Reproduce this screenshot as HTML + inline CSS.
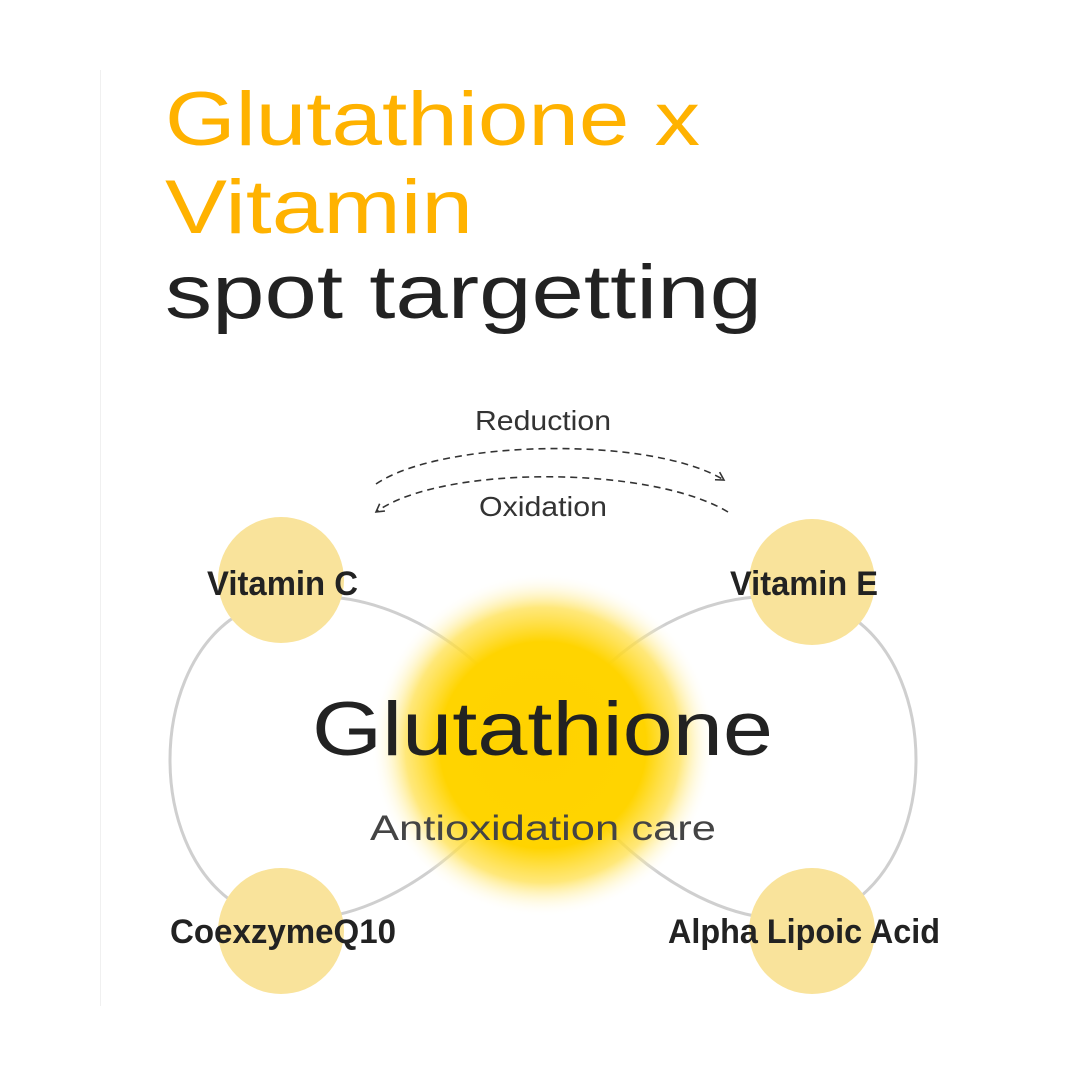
<!DOCTYPE html>
<html><head><meta charset="utf-8"><style>
html,body{margin:0;padding:0;background:#fff}
svg{display:block}
</style></head><body>
<svg width="1080" height="1080" viewBox="0 0 1080 1080" xmlns="http://www.w3.org/2000/svg">
<defs>
<radialGradient id="g" cx="50%" cy="50%" r="50%">
<stop offset="0" stop-color="#ffd200"/>
<stop offset="0.6" stop-color="#ffd400"/>
<stop offset="0.8" stop-color="#ffe04d" stop-opacity="0.75"/>
<stop offset="1" stop-color="#fff" stop-opacity="0"/>
</radialGradient>
<marker id="ah" viewBox="0 0 10 10" refX="8" refY="5" markerWidth="7" markerHeight="7" orient="auto">
<path d="M1 1 L8 5 L1 9" fill="none" stroke="#333" stroke-width="1.4"/>
</marker>
</defs>
<line x1="100.5" y1="70" x2="100.5" y2="1006" stroke="#f0f0f0" stroke-width="1"/>
<g font-family="Liberation Sans, sans-serif">
<text x="165" y="145" font-size="76" fill="#ffb200" textLength="535" lengthAdjust="spacingAndGlyphs">Glutathione x</text>
<text x="165" y="233" font-size="76" fill="#ffb200" textLength="308" lengthAdjust="spacingAndGlyphs">Vitamin</text>
<text x="165" y="318" font-size="76" fill="#222" textLength="597" lengthAdjust="spacingAndGlyphs">spot targetting</text>
<text x="543" y="430" font-size="28" fill="#333" text-anchor="middle" textLength="136" lengthAdjust="spacingAndGlyphs">Reduction</text>
<text x="543" y="516" font-size="28" fill="#333" text-anchor="middle" textLength="128" lengthAdjust="spacingAndGlyphs">Oxidation</text>
</g>
<path d="M376 484 C440 440 650 435 724 480" fill="none" stroke="#333" stroke-width="1.6" stroke-dasharray="7 5" marker-end="url(#ah)"/>
<path d="M728 512 C650 465 440 465 376 512" fill="none" stroke="#333" stroke-width="1.6" stroke-dasharray="7 5" marker-end="url(#ah)"/>
<g fill="none" stroke="#cfcfcf" stroke-width="3">
<path d="M543 745 C470 620 330 560 230 620 C150 680 150 840 230 900 C330 960 470 870 543 745"/>
<path d="M543 745 C616 620 756 560 856 620 C936 680 936 840 856 900 C756 960 616 870 543 745"/>
</g>
<circle cx="543" cy="745" r="172" fill="url(#g)"/>
<g fill="#f9e39b">
<circle cx="281" cy="580" r="63"/>
<circle cx="812" cy="582" r="63"/>
<circle cx="281" cy="931" r="63"/>
<circle cx="812" cy="931" r="63"/>
</g>
<g font-family="Liberation Sans, sans-serif" font-weight="bold" font-size="34" fill="#222">
<text x="207" y="595" textLength="151" lengthAdjust="spacingAndGlyphs">Vitamin C</text>
<text x="730" y="595" textLength="148" lengthAdjust="spacingAndGlyphs">Vitamin E</text>
<text x="170" y="943" textLength="226" lengthAdjust="spacingAndGlyphs">CoexzymeQ10</text>
<text x="668" y="943" textLength="272" lengthAdjust="spacingAndGlyphs">Alpha Lipoic Acid</text>
</g>
<g font-family="Liberation Sans, sans-serif">
<text x="312" y="755" font-size="76" fill="#222" textLength="461" lengthAdjust="spacingAndGlyphs">Glutathione</text>
<text x="370" y="840" font-size="35" fill="#444" textLength="346" lengthAdjust="spacingAndGlyphs">Antioxidation care</text>
</g>
</svg>
</body></html>
